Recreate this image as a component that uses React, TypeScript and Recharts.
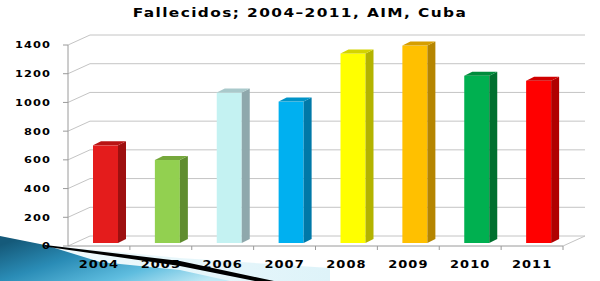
import React from "react"
import { Bar, BarChart, CartesianGrid, Cell, XAxis, YAxis } from "recharts"

const years = ["2004", "2005", "2006", "2007", "2008", "2009", "2010", "2011"]
const deaths = [680, 578, 1048, 985, 1320, 1375, 1165, 1130]
const faceColors = ["#e41c1c", "#92d050", "#c4f2f2", "#00b0f0", "#ffff00", "#ffc000", "#00b050", "#ff0000"]
const sideColors = ["#9e1010", "#5f8d2f", "#8fa8ac", "#0079a8", "#b3b300", "#b58500", "#00702f", "#b00000"]
const topColors = ["#b81414", "#76a83c", "#a9c9cb", "#0094c8", "#d4d400", "#d69e00", "#008c3c", "#d00000"]
const yTicks = [0, 200, 400, 600, 800, 1000, 1200, 1400]

const data = years.map((year, i) => ({ year, value: deaths[i] }))

// perspective offsets for the fake 3D look
const DX = 22
const DY = 10
const BDX = 8
const BDY = 4
const SHIFT_X = 7
const SHIFT_Y = 3

const FONT = "'DejaVu Sans', Verdana, sans-serif"

function Column3D(props: any) {
  const { x, y, width, height, index } = props
  const fx = x + SHIFT_X
  const fy = y - SHIFT_Y
  const w = width
  const h = height
  return (
    <g>
      <rect x={fx} y={fy} width={w} height={h} fill={faceColors[index]} />
      <polygon
        points={`${fx + w},${fy} ${fx + w + BDX},${fy - BDY} ${fx + w + BDX},${fy + h - BDY} ${fx + w},${fy + h}`}
        fill={sideColors[index]}
      />
      <polygon
        points={`${fx},${fy} ${fx + BDX},${fy - BDY} ${fx + w + BDX},${fy - BDY} ${fx + w},${fy}`}
        fill={topColors[index]}
      />
    </g>
  )
}

function GridLine(p: any) {
  const isFloor = p.index === 0
  return (
    <g key={p.key}>
      <line x1={p.x1} y1={p.y1} x2={p.x1 + DX} y2={p.y1 - DY} stroke="#c4c4c4" />
      <line x1={p.x1 + DX} y1={p.y1 - DY} x2={p.x2 + DX} y2={p.y1 - DY} stroke="#c4c4c4" />
      {isFloor && <line x1={p.x2} y1={p.y1} x2={p.x2 + DX} y2={p.y1 - DY} stroke="#c4c4c4" />}
    </g>
  )
}

function YearTick(props: any) {
  const { x, y, payload } = props
  const half = payload?.offset ?? 31
  const axisY = y - 4
  return (
    <g>
      <line x1={x + half} y1={axisY} x2={x + half} y2={axisY + 4} stroke="#9a9a9a" />
      <text
        transform={`translate(${x},${y + 18}) scale(1.3,1)`}
        x={0}
        y={0}
        textAnchor="middle"
        fontFamily={FONT}
        fontWeight="bold"
        fontSize={10}
        letterSpacing={0.8}
        fill="#000"
      >
        {payload.value}
      </text>
    </g>
  )
}

function ValueTick(props: any) {
  const { x, y, payload } = props
  return (
    <text
      transform={`translate(${x},${y}) scale(1.2,1)`}
      x={0}
      y={0}
      dy="0.36em"
      textAnchor="end"
      fontFamily={FONT}
      fontWeight="bold"
      fontSize={9.5}
      letterSpacing={0.9}
      fill="#000"
    >
      {payload.value}
    </text>
  )
}

export default function App() {
  return (
    <div style={{ position: "absolute", left: 0, top: 0, width: 600, height: 281, background: "#fff", overflow: "hidden" }}>
      <svg width={600} height={281} style={{ position: "absolute", left: 0, top: 0 }}>
        <defs>
          <linearGradient id="slide" x1="0" y1="0.2" x2="1" y2="0.8">
            <stop offset="0" stopColor="#155a7a" />
            <stop offset="0.35" stopColor="#2a8cb6" />
            <stop offset="0.7" stopColor="#5fbddf" />
            <stop offset="1" stopColor="#bfe9f5" />
          </linearGradient>
          <linearGradient id="wash" x1="0" y1="0" x2="1" y2="0">
            <stop offset="0" stopColor="#f3fbfd" />
            <stop offset="1" stopColor="#def3f9" />
          </linearGradient>
        </defs>
        <polygon points="45,245 180,258 330,268 330,281 0,281" fill="url(#wash)" />
        <polygon points="0,236 45,245 100,262 180,270 230,281 0,281" fill="url(#slide)" />
        <polygon points="45,245 180,261 274,281 255,281 180,266 45,246.5" fill="#000" />
      </svg>
      <div
        style={{
          position: "absolute",
          left: 0,
          top: 6,
          width: 600,
          textAlign: "center",
          fontFamily: FONT,
          fontWeight: "bold",
          fontSize: 12,
          letterSpacing: 1.1,
          color: "#000",
          transform: "scaleX(1.28)",
          transformOrigin: "300px 0",
        }}
      >
        Fallecidos; 2004–2011, AIM, Cuba
      </div>
      <div style={{ position: "absolute", left: 0, top: 0 }}>
        <BarChart
          width={600}
          height={281}
          data={data}
          margin={{ top: 45, right: 37, left: 0, bottom: 0 }}
          barSize={25}
        >
          <CartesianGrid vertical={false} horizontal={GridLine} />
          <XAxis
            dataKey="year"
            height={35}
            axisLine={{ stroke: "#9a9a9a" }}
            tickLine={false}
            tickSize={4}
            tickMargin={0}
            tick={<YearTick />}
            interval={0}
          />
          <YAxis
            width={68}
            domain={[0, 1400]}
            ticks={yTicks}
            interval={0}
            axisLine={{ stroke: "#9a9a9a" }}
            tickLine={{ stroke: "#9a9a9a" }}
            tickSize={5}
            tickMargin={12}
            tick={<ValueTick />}
          />
          <Bar dataKey="value" shape={<Column3D />} isAnimationActive={false}>
            {data.map((d, i) => (
              <Cell key={d.year} fill={faceColors[i]} />
            ))}
          </Bar>
        </BarChart>
      </div>
    </div>
  )
}
